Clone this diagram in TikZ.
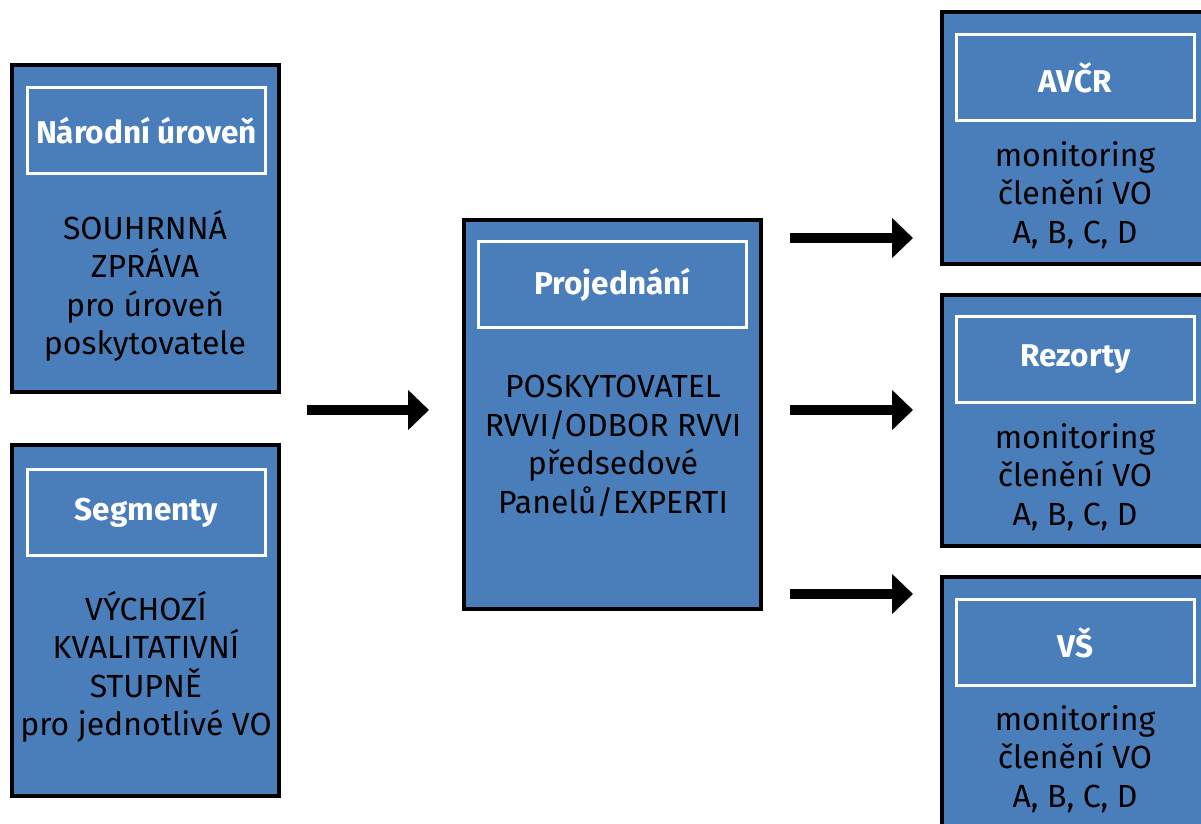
\documentclass[tikz,border=0pt]{standalone}
\usepackage{fontspec}
\setmainfont{Fira Sans}
\usetikzlibrary{arrows.meta}
\definecolor{boxblue}{HTML}{4A7EBB}
\tikzset{
  outerbox/.style={draw=black, line width=4pt, fill=boxblue, inner sep=0pt, outer sep=0pt, anchor=north west},
  titlebox/.style={draw=white, line width=3pt, inner sep=0pt, outer sep=0pt, anchor=north west, minimum width=238pt, minimum height=86pt, text=white, font=\fontsize{31.5}{36}\selectfont\bfseries},
  bodytext/.style={align=center, inner sep=0pt, text=black, font=\fontsize{32}{38.5}\selectfont},
  bigarrow/.style={line width=10pt, -{Triangle[length=21pt,width=39pt]}}
}
\begin{document}
\begin{tikzpicture}[x=1pt,y=-1pt]
\useasboundingbox (0,0) rectangle (1201,823);
\clip (0,0) rectangle (1201,823);
\fill[white] (0,0) rectangle (1201,823);
% left boxes
\node[outerbox, minimum width=267pt, minimum height=327pt] (n1) at (12,65) {};
\node[titlebox] (t1) at (27.5,87.5) {Národní úroveň};
\node[bodytext] (b1) at (145,286) {SOUHRNNÁ\\ZPRÁVA\\pro úroveň\\poskytovatele};
\node[outerbox, minimum width=267pt, minimum height=351pt] (n2) at (12,445) {};
\node[titlebox] (t2) at (27.5,469.5) {Segmenty};
\node[bodytext] (b2) at (146,667) {VÝCHOZÍ\\KVALITATIVNÍ\\STUPNĚ\\pro jednotlivé VO};
% centre box
\node[outerbox, minimum width=297pt, minimum height=389pt] (n3) at (464,220) {};
\node[titlebox, minimum width=268pt] (t3) at (478.5,241.5) {Projednání};
\node[bodytext] (b3) at (613,446) {POSKYTOVATEL\\RVVI/ODBOR RVVI\\předsedové\\Panelů/EXPERTI};
% right boxes
\node[outerbox, minimum width=280pt, minimum height=252pt] (n4) at (942,12) {};
\node[titlebox] (t4) at (956.5,34.5) {AVČR};
\node[bodytext] (b4) at (1075,195) {monitoring\\členění VO\\A, B, C, D};
\node[outerbox, minimum width=280pt, minimum height=251pt] (n5) at (942,295) {};
\node[titlebox] (t5) at (956.5,316.5) {Rezorty};
\node[bodytext] (b5) at (1075,477) {monitoring\\členění VO\\A, B, C, D};
\node[outerbox, minimum width=280pt, minimum height=300pt] (n6) at (942,577) {};
\node[titlebox] (t6) at (956.5,599.5) {VŠ};
\node[bodytext] (b6) at (1075,759) {monitoring\\členění VO\\A, B, C, D};
% arrows
\coordinate (a0s) at (307,410); \coordinate (a0e) at (429,410);
\coordinate (a1s) at (790,238); \coordinate (a1e) at (913,238);
\coordinate (a2s) at (790,410); \coordinate (a2e) at (913,410);
\coordinate (a3s) at (790,594); \coordinate (a3e) at (913,594);
\draw[bigarrow] (a0s) -- (a0e);
\draw[bigarrow] (a1s) -- (a1e);
\draw[bigarrow] (a2s) -- (a2e);
\draw[bigarrow] (a3s) -- (a3e);
\end{tikzpicture}
\end{document}
